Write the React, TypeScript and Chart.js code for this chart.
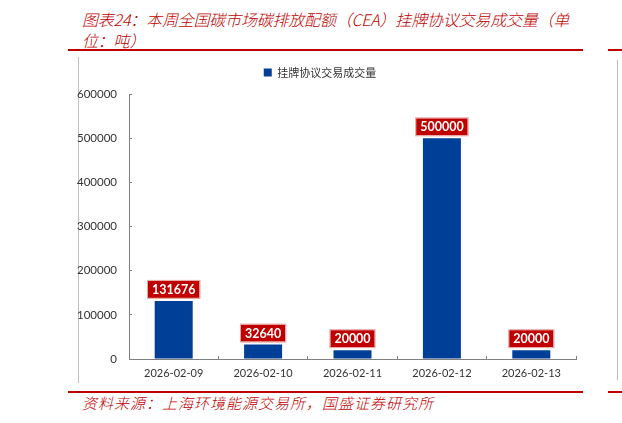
import { useEffect, useRef } from 'react';
import { Chart, registerables, Plugin } from 'chart.js';

Chart.register(...registerables);

const dates = ['2026-02-09', '2026-02-10', '2026-02-11', '2026-02-12', '2026-02-13'];
const volumes = [131676, 32640, 20000, 500000, 20000];
const seriesName = '挂牌协议交易成交量';
const yTicks = [0, 100000, 200000, 300000, 400000, 500000, 600000];

const RED = '#C00000';
const BLUE = '#003F98';
const AXIS = '#808080';

// red boxes with white numbers above each bar
const valueBoxes: Plugin<'bar'> = {
  id: 'valueBoxes',
  afterDatasetsDraw(chart) {
    const { ctx } = chart;
    const meta = chart.getDatasetMeta(0);
    ctx.save();
    ctx.font = 'bold 12.5px Lato, "Liberation Sans", sans-serif';
    ctx.textAlign = 'center';
    ctx.textBaseline = 'middle';
    meta.data.forEach((el: any, i: number) => {
      const text = String(volumes[i]);
      const w = ctx.measureText(text).width + 8;
      const h = 17;
      const bx = el.x - w / 2;
      const by = el.y - 3 - h;
      ctx.fillStyle = RED;
      ctx.fillRect(bx, by, w, h);
      ctx.strokeStyle = '#E6A3A3';
      ctx.lineWidth = 1;
      ctx.strokeRect(bx - 0.5, by - 0.5, w + 1, h + 1);
      ctx.fillStyle = '#ffffff';
      ctx.fillText(text, el.x, by + h / 2 + 0.5);
    });
    ctx.restore();
  },
};

const BarChart = () => {
  const canvasRef = useRef<HTMLCanvasElement>(null);
  const chartRef = useRef<Chart | null>(null);

  useEffect(() => {
    if (!canvasRef.current) return;
    const ctx = canvasRef.current.getContext('2d');
    if (!ctx) return;

    chartRef.current = new Chart(ctx, {
      type: 'bar',
      data: {
        labels: dates,
        datasets: [
          {
            label: seriesName,
            data: volumes,
            backgroundColor: BLUE,
            barPercentage: 0.425,
            categoryPercentage: 1,
          },
        ],
      },
      options: {
        animation: false,
        responsive: true,
        maintainAspectRatio: false,
        layout: { padding: { top: 0, left: 0, right: 4, bottom: 0 } },
        plugins: {
          legend: {
            position: 'top',
            labels: {
              boxWidth: 8,
              boxHeight: 8,
              padding: 10,
              color: '#333333',
              font: { family: '"Noto Sans CJK SC"', size: 11 },
            },
          },
          // empty title used as a spacer under the legend
          title: {
            display: true,
            text: '',
            weight: 500,
            font: { size: 1 },
            padding: { top: 0, bottom: 5 },
          } as any,
          tooltip: { enabled: false },
        },
        scales: {
          x: {
            grid: {
              offset: true,
              drawOnChartArea: false,
              tickLength: -3,
              color: AXIS,
            },
            border: { color: AXIS },
            ticks: {
              padding: 11,
              color: '#333333',
              font: { family: 'Lato, "Liberation Sans", sans-serif', size: 11 },
            },
            afterFit: (scale: any) => {
              scale.height = 24;
            },
          },
          y: {
            min: 0,
            max: 600000,
            afterBuildTicks: (scale: any) => {
              scale.ticks = yTicks.map((v) => ({ value: v }));
            },
            grid: {
              drawOnChartArea: false,
              tickLength: -3,
              color: AXIS,
            },
            border: { color: AXIS },
            ticks: {
              padding: 15,
              color: '#333333',
              font: { family: 'Lato, "Liberation Sans", sans-serif', size: 11.5 },
              callback: (value: any) => String(value),
            },
            afterFit: (scale: any) => {
              scale.width = 65;
            },
          },
        },
      },
      plugins: [valueBoxes],
    });

    return () => {
      if (chartRef.current) {
        chartRef.current.destroy();
        chartRef.current = null;
      }
    };
  }, []);

  return (
    <div style={{ position: 'absolute', left: 64, top: 57, width: 516, height: 326 }}>
      <canvas ref={canvasRef} />
    </div>
  );
};

const line = (left: number, top: number, width: number, height: number, color: string) => (
  <div style={{ position: 'absolute', left, top, width, height, background: color }} />
);

export default function App() {
  const textStyle = {
    position: 'absolute' as const,
    left: 82,
    color: RED,
    fontFamily: '"Noto Sans CJK SC", sans-serif',
    fontStyle: 'italic',
    fontWeight: 300,
    fontSize: 16,
    lineHeight: '21px',
    whiteSpace: 'nowrap' as const,
  };

  return (
    <div
      style={{
        position: 'absolute',
        left: 0,
        top: 0,
        width: 622,
        height: 423,
        background: '#ffffff',
        overflow: 'hidden',
      }}
    >
      <div style={{ ...textStyle, top: 9, letterSpacing: -0.2 }}>
        图表24：本周全国碳市场碳排放配额（CEA）挂牌协议交易成交量（单
        <br />
        位：吨）
      </div>
      {line(68, 49, 515, 1.5, RED)}
      {line(608, 49, 14, 1.5, RED)}
      {line(78, 57, 1, 326, '#BFBFBF')}
      {line(617, 60, 1, 320, '#BFBFBF')}
      <BarChart />
      {line(68, 391, 515, 1.5, RED)}
      {line(608, 391, 14, 1.5, RED)}
      <div style={{ ...textStyle, top: 392, fontSize: 15, letterSpacing: 1 }}>
        资料来源：上海环境能源交易所，国盛证券研究所
      </div>
    </div>
  );
}
